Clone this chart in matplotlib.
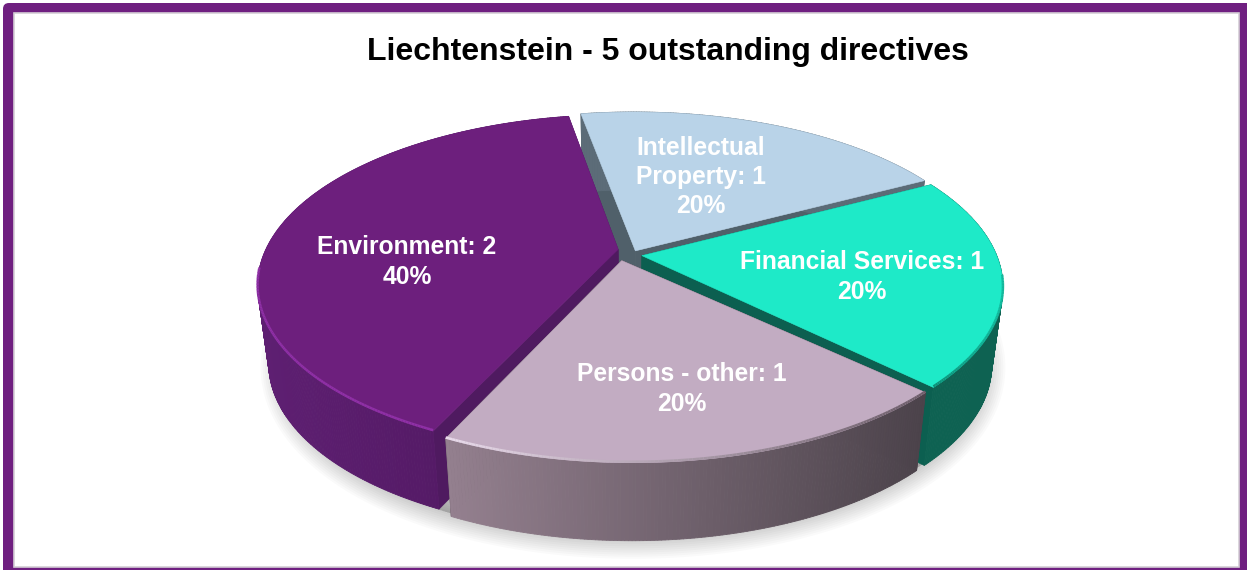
import numpy as np
import matplotlib
matplotlib.use("Agg")
import matplotlib.pyplot as plt
from matplotlib.patches import FancyBboxPatch, Rectangle
from matplotlib.collections import PolyCollection, LineCollection
from matplotlib.colors import to_rgb

title = "Liechtenstein - 5 outstanding directives"
categories = ["Intellectual\nProperty", "Financial Services", "Persons - other", "Environment"]
values = [1, 1, 1, 2]

top_colors = ["#b9d3e8", "#1eeac8", "#c2acc2", "#6d1f7d"]
wall_colors = ["#50606a", "#0c5f50", "#4a404a", "#4f1a60"]
side_left = ["#5c6c78", "#0e6252", "#94808f", "#5e1f72"]
side_right = ["#5c6c78", "#0e6252", "#4c434b", "#4e175e"]
rim_left = ["#b9d3e8", "#0e8c74", "#eadcec", "#8f30a6"]
rim_right = ["#b9d3e8", "#12b89c", "#6b5c68", "#8f30a6"]
label_xy = [(701, 177), (862, 277), (682, 389), (407, 262)]
tip_nudge = [(1, -1), (2, -1), (-10, 0), (-2, -6)]
draw_order = [0, 1, 3, 2]

CX, CY, A, B, P = 630.0, 256.0, 357.0, 165.4, 0.173
START, EXPLODE, DEPTH, SHRINK = -10.0, 0.028, 78.0, 0.97

plt.rcParams["font.family"] = ["Liberation Sans", "DejaVu Sans"]
fig = plt.figure(figsize=(12.47, 5.70), dpi=100)
ax = fig.add_axes([0, 0, 1, 1])
ax.set_xlim(0, 1247)
ax.set_ylim(570, 0)
ax.axis("off")

ax.add_patch(FancyBboxPatch((9, 9), 1300, 620, boxstyle="round,pad=6,rounding_size=6",
                            fc="#6f1f80", ec="none", zorder=0))
ax.add_patch(Rectangle((14, 13), 1225, 554, fc="white", ec="#d4ced6", lw=1.2, zorder=1))


def project(theta_deg, radius, mid_deg, explode):
    t, m = np.radians(theta_deg), np.radians(mid_deg)
    u = radius * np.sin(t) + explode * np.sin(m)
    v = radius * np.cos(t) + explode * np.cos(m)
    s = 1.0 / (1.0 + P * v)
    return CX + A * u * s, CY - B * v * s


def lower(x, y):
    return CX + (x - CX) * SHRINK, y + DEPTH


def mix(c1, c2, f):
    a, b = np.array(to_rgb(c1)), np.array(to_rgb(c2))
    return a + (b - a) * f


total = sum(values)
spans = [360.0 * v / total for v in values]
starts = START + np.concatenate(([0.0], np.cumsum(spans)[:-1]))

# soft shadow below the pie
tt = np.linspace(0, 360, 240)
sx, sy = lower(*project(tt, 1.0, 0.0, 0.0))
for lw in np.arange(30, 1, -3):
    ax.fill(sx + 3, sy + 4, fc="black", ec="black", lw=lw, alpha=0.02, joinstyle="round", zorder=2)

z = 3.0
for i in draw_order:
    a0, sp = starts[i], spans[i]
    mid = a0 + sp / 2
    th = np.linspace(a0, a0 + sp, int(sp * 2) + 1)
    x, y = project(th, 1.0, mid, EXPLODE)
    tipx, tipy = project(0.0, 0.0, mid, EXPLODE)
    tipx, tipy = tipx + tip_nudge[i][0], tipy + tip_nudge[i][1]
    xb, yb = lower(x, y)
    tbx, tby = lower(tipx, tipy)

    # radial walls
    for k in (0, -1):
        ax.fill([tipx, x[k], xb[k], tbx], [tipy, y[k], yb[k], tby],
                fc=wall_colors[i], ec=wall_colors[i], lw=0.5, zorder=z)

    # outer wall, shaded from left to right
    polys, cols = [], []
    xmin, xmax = x.min(), x.max()
    for j in range(len(th) - 1):
        polys.append([(x[j], y[j]), (x[j + 1], y[j + 1]), (xb[j + 1], yb[j + 1]), (xb[j], yb[j])])
        cols.append(mix(side_left[i], side_right[i], (x[j] - xmin) / max(xmax - xmin, 1)))
    ax.add_collection(PolyCollection(polys, facecolors=cols, edgecolors=cols, linewidths=0.6, zorder=z + 0.1))

    # top face
    ax.fill(np.r_[tipx, x], np.r_[tipy, y], fc=top_colors[i], ec=top_colors[i], lw=0.4, zorder=z + 0.2)

    # bevel along the front rim
    segs, rc = [], []
    for j in range(len(th) - 1):
        if y[j] < tipy + 20:
            continue
        segs.append([(x[j], y[j] - 1), (x[j + 1], y[j + 1] - 1)])
        rc.append(mix(rim_left[i], rim_right[i], (x[j] - xmin) / max(xmax - xmin, 1)))
    if segs:
        ax.add_collection(LineCollection(segs, colors=rc, linewidths=1.8, zorder=z + 0.3))
    z += 1

for i, cat in enumerate(categories):
    pct = round(100 * values[i] / total)
    ax.text(*label_xy[i], f"{cat}: {values[i]}\n{pct}%", color="white", fontsize=17.7, fontweight="bold",
            ha="center", va="center", linespacing=1.27, zorder=20)

ax.text(668, 52, title, color="black", fontsize=23, fontweight="bold", ha="center", va="center", zorder=20)

fig.savefig("out.png", dpi=100)
